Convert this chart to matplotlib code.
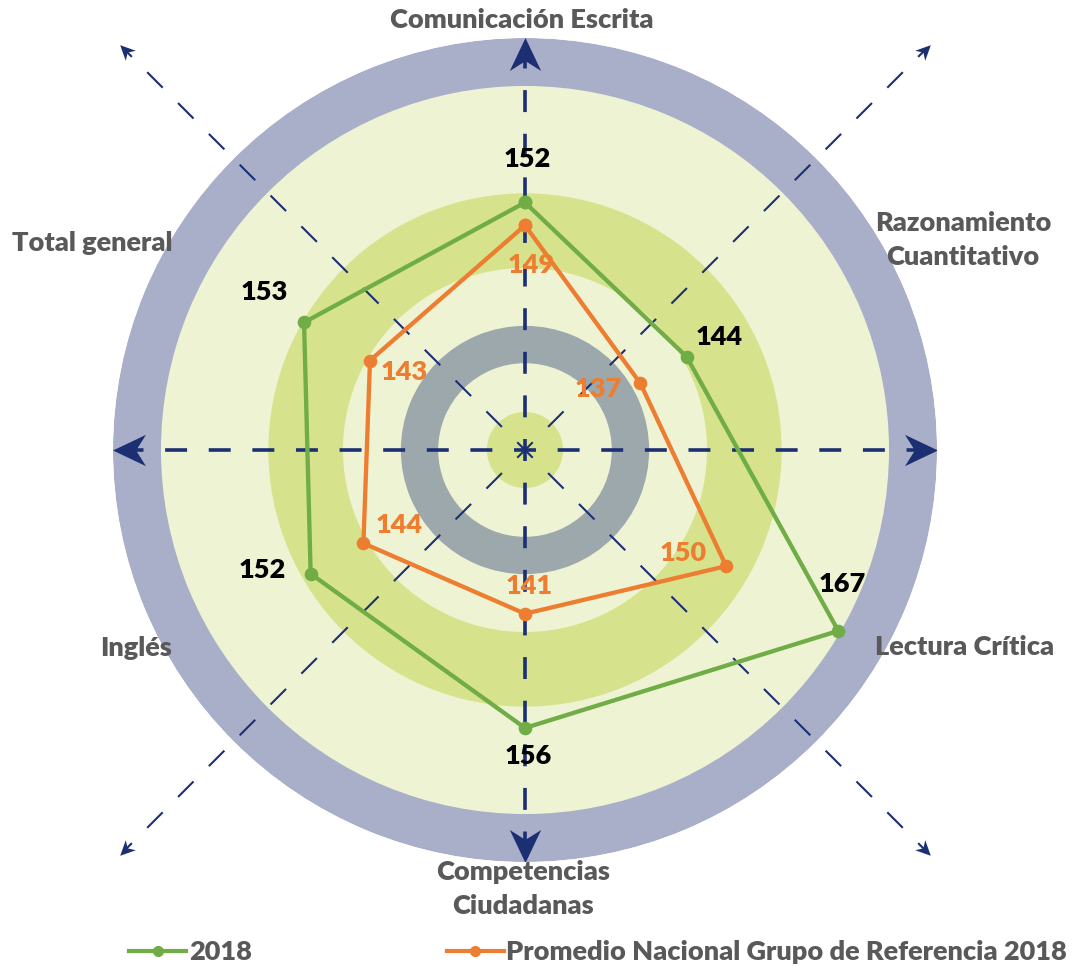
"""Radar chart: puntajes 2018 vs promedio nacional del grupo de referencia."""
import numpy as np
import matplotlib

matplotlib.use("Agg")
import matplotlib.pyplot as plt
from matplotlib.lines import Line2D
from matplotlib.markers import MarkerStyle
from matplotlib.path import Path
from matplotlib.transforms import Affine2D


CATEGORIES = [
    "Comunicación Escrita",
    "Razonamiento\nCuantitativo",
    "Lectura Crítica",
    "Competencias\nCiudadanas",
    "Inglés",
    "Total general",
]
SERIES_NAMES = ["2018", "Promedio Nacional Grupo de Referencia 2018"]
SCORES_2018 = [152, 144, 167, 156, 152, 153]
SCORES_REFERENCE = [149, 137, 150, 141, 144, 143]

GREEN = "#70AD47"
ORANGE = "#ED7D31"
NAVY = "#1B2F72"
LABEL_GREY = "#595959"

R_MIN = 119.5
R_MAX = 173.6
PX_PER_UNIT = 7.62
# background rings as (inner, outer, colour), drawn in order
RINGS = [
    (R_MIN, R_MAX, "#A9AFC8"),
    (R_MIN, 167.3, "#EEF3D3"),
    (143.4, 153.2, "#D7E38C"),
    (130.9, 135.8, "#9DA8AC"),
    (R_MIN, 124.5, "#D7E38C"),
]
DIAG_TIP = 194.7

# value label offsets from their point, in pixels
GREEN_OFFSETS = [(2, 43), (33, 20), (4, 47), (3, -28), (-48, 4), (-40, 30)]
ORANGE_OFFSETS = [(6, -40), (-42, -6), (-43, 13), (4, 28), (36, 18), (34, -11)]
# category label placement: (ha, va, dx, dy)
CAT_PLACE = [
    ("center", "bottom", -3, 6),
    ("left", "center", -7, 4),
    ("left", "center", -7, 9),
    ("center", "top", -2, 2),
    ("right", "center", 4, 8),
    ("right", "center", 4, 1),
]
FONT_SIZE = 19.5

plt.rcParams["lines.scale_dashes"] = False
plt.rcParams["font.family"] = ["Lato", "DejaVu Sans"]
plt.rcParams["font.weight"] = "heavy"

DASH = (7.9, (15.8, 15.6))


def arrow_marker(screen_angle):
    verts = [(1, 0), (-1, 0.95), (-0.4, 0), (-1, -0.95), (1, 0)]
    codes = [Path.MOVETO, Path.LINETO, Path.LINETO, Path.LINETO, Path.CLOSEPOLY]
    return MarkerStyle(Path(verts, codes), transform=Affine2D().rotate_deg(screen_angle))


def main():
    fig = plt.figure(figsize=(10.72, 9.66), dpi=100)
    ax = fig.add_axes([113 / 1072, 104 / 966, 824 / 1072, 824 / 966], projection="polar")
    ax.set_theta_zero_location("N")
    ax.set_theta_direction(-1)
    ax.set_ylim(R_MIN, R_MAX)
    ax.set_xticks([])
    ax.set_yticks([])
    ax.grid(False)
    ax.spines["polar"].set_visible(False)
    ax.patch.set_visible(False)

    for inner, outer, colour in RINGS:
        ax.bar(0, outer - inner, width=2 * np.pi, bottom=inner, color=colour,
               linewidth=0, zorder=0.5)

    # main axes: dashed with large arrowheads on the ring
    big_head = 33 / PX_PER_UNIT
    for deg in [0, 90, 180, 270]:
        t = np.deg2rad(deg)
        ax.plot([t, t], [R_MIN, R_MAX - big_head / 2], color=NAVY, lw=2.6,
                linestyle=DASH, zorder=1, dash_capstyle="butt")
        ax.plot([t], [R_MAX - big_head / 2], marker=arrow_marker(90 - deg),
                markersize=33 / 1.389, color=NAVY, markeredgewidth=0, zorder=1.2)
    # diagonal axes: thinner, reaching past the ring
    small_head = 15 / PX_PER_UNIT
    for deg in [45, 135, 225, 315]:
        t = np.deg2rad(deg)
        ax.plot([t, t], [R_MIN, DIAG_TIP - small_head / 2], color=NAVY, lw=1.5,
                linestyle=DASH, zorder=1, clip_on=False, dash_capstyle="butt")
        ax.plot([t], [DIAG_TIP - small_head / 2], marker=arrow_marker(90 - deg),
                markersize=15 / 1.389, color=NAVY, markeredgewidth=0, zorder=1.2,
                clip_on=False)

    theta = np.deg2rad(np.arange(len(CATEGORIES)) * 60)
    closed = np.append(theta, theta[0])
    series = [
        (SCORES_2018, GREEN, GREEN_OFFSETS, "black"),
        (SCORES_REFERENCE, ORANGE, ORANGE_OFFSETS, ORANGE),
    ]
    for values, colour, offsets, text_colour in series:
        ax.plot(closed, np.append(values, values[0]), color=colour, lw=3.1,
                marker="o", markersize=8.8, zorder=3)
        for t, v, (dx, dy) in zip(theta, values, offsets):
            ax.annotate(str(v), xy=(t, v), xytext=(dx, dy), textcoords="offset pixels",
                        ha="center", va="center", fontsize=FONT_SIZE,
                        color=text_colour, zorder=4)

    for t, label, (ha, va, dx, dy) in zip(theta, CATEGORIES, CAT_PLACE):
        ax.annotate(label, xy=(t, R_MAX), xytext=(dx, dy), textcoords="offset pixels",
                    ha=ha, va=va, multialignment="center", fontsize=FONT_SIZE,
                    color=LABEL_GREY, annotation_clip=False, linespacing=1.5)

    handles = [
        Line2D([], [], color=GREEN, lw=3, marker="o", markersize=7),
        Line2D([], [], color=ORANGE, lw=3, marker="o", markersize=7),
    ]
    fig.legend(handles, SERIES_NAMES, loc="center", bbox_to_anchor=(0.558, 0.0145),
               ncol=2, frameon=False, handlelength=2.1,
               handletextpad=0.1, columnspacing=7.2, labelcolor=LABEL_GREY,
               prop={"weight": "heavy", "size": FONT_SIZE})

    fig.savefig("out.png", dpi=100)


if __name__ == "__main__":
    main()
